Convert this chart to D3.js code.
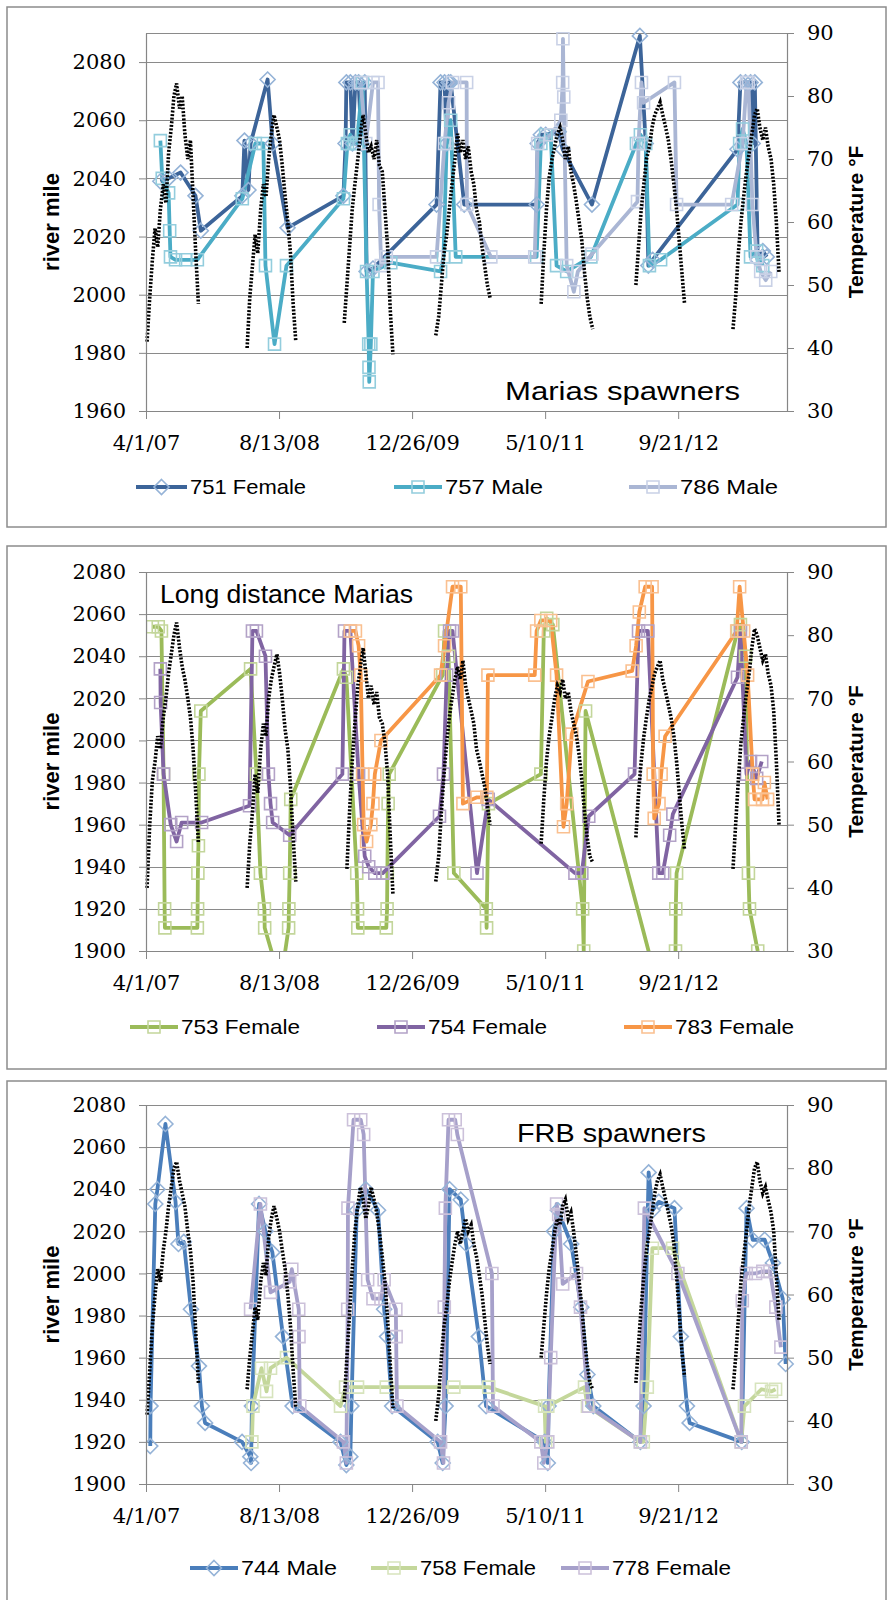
<!DOCTYPE html>
<html>
<head>
<meta charset="utf-8">
<script src="https://cdn.jsdelivr.net/npm/d3@7"></script>
<style>
  body { margin: 0; background: #fff; }
  svg text { font-family: "Liberation Sans", Arial, sans-serif; fill: #000; }
  .axis text { font-family: "DejaVu Serif", serif; font-size: 21px; }
</style>
</head>
<body>
<svg id="chart" width="889" height="1600"></svg>
<script>
// ---- axis ticks ----
var dateTicks = ['2007-04-01', '2008-08-13', '2009-12-26', '2011-05-10', '2012-09-21'];
var dateTickLabels = ['4/1/07', '8/13/08', '12/26/09', '5/10/11', '9/21/12'];
var tempTicks = [30, 40, 50, 60, 70, 80, 90];
var mariasMileTicks = [1960, 1980, 2000, 2020, 2040, 2060, 2080];
var lowerMileTicks = [1900, 1920, 1940, 1960, 1980, 2000, 2020, 2040, 2060, 2080];

// ---- water temperature (deg F), one row per season: [year, values on tempSeasonDays] ----
var tempSeasonDays = ['03-25', '04-05', '04-15', '04-25', '05-05', '05-15', '05-25', '06-05', '06-15', '06-25', '07-05', '07-15',
  '07-25', '08-05', '08-15', '08-25', '09-05', '09-15', '09-25', '10-05', '10-15', '10-25', '11-05'];

var tempMarias = [
  [2007, null, 41, 48, 54, 59, 56, 62, 66, 63, 71, 75, 80, 82, 78, 80, 74, 70, 73, 64, 55, 47, null, null],
  [2008, null, null, 40, 48, 53, 58, 55, 62, 66, 64, 70, 74, 77, 75, 73, 69, 64, 60, 55, 47, 41, null, null],
  [2009, null, null, 44, 50, 56, 62, 66, 70, 74, 77, 74, 71, 72, 70, 73, 69, 68, 62, 56, 46, 39, null, null],
  [2010, 42, 45, 50, 55, 58, 62, 66, 70, 74, 71, 73, 70, 72, 68, 66, 62, 60, 56, 53, 50, 48, null, null],
  [2011, null, null, null, 47, 55, 62, 67, 70, 72, 74, 75, 73, 70, 72, 68, 66, 63, 60, 57, 52, 48, 45, 43],
  [2012, null, null, 50, 56, 62, 66, 70, 72, 75, 77, 78, 79, 77, 75, 73, 70, 66, 62, 57, 52, 47, null, null],
  [2013, null, null, 43, 48, 55, 60, 64, 68, 71, 74, 77, 78, 75, 73, 75, 72, 70, 66, 60, 52, null, null, null]
];
var tempLong = [
  [2007, null, 40, 50, 57, 60, 64, 62, 67, 70, 74, 77, 80, 82, 78, 75, 73, 70, 67, 62, 55, 47, null, null],
  [2008, null, null, 40, 47, 52, 58, 55, 62, 66, 64, 70, 73, 75, 77, 74, 70, 65, 62, 56, 48, 41, null, null],
  [2009, null, null, null, 43, 52, 60, 66, 72, 75, 78, 74, 70, 72, 69, 71, 67, 66, 63, 58, 48, 39, null, null],
  [2010, 41, 45, 52, 58, 63, 67, 70, 73, 75, 73, 76, 72, 70, 68, 66, 62, 60, 58, 56, 53, 50, null, null],
  [2011, null, null, null, 47, 54, 60, 64, 67, 70, 72, 71, 73, 70, 71, 68, 66, 64, 61, 57, 52, 48, 45, 44],
  [2012, null, null, 48, 55, 60, 64, 67, 70, 72, 74, 75, 76, 73, 71, 69, 67, 64, 60, 55, 50, 46, null, null],
  [2013, null, null, 43, 50, 57, 63, 67, 71, 74, 78, 81, 80, 78, 76, 77, 74, 72, 68, 60, 50, null, null, null]
];
var tempFRB = [
  [2007, null, 41, 48, 55, 60, 64, 62, 67, 70, 74, 77, 80, 81, 78, 76, 74, 70, 67, 62, 54, 46, null, null],
  [2008, null, null, 45, 50, 54, 58, 56, 62, 65, 63, 69, 72, 74, 72, 70, 67, 64, 60, 55, 48, 42, null, null],
  [2009, null, null, 43, 50, 57, 64, 70, 74, 77, 75, 72, 74, 77, 75, 73, 70, 66, 62, 56, 49, 42, null, null],
  [2010, 40, 44, 50, 55, 58, 62, 65, 68, 70, 68, 70, 72, 70, 71, 68, 66, 63, 60, 56, 52, 49, null, null],
  [2011, null, null, null, 50, 55, 60, 64, 67, 70, 72, 71, 74, 75, 72, 73, 70, 66, 62, 58, 53, 49, 46, 45],
  [2012, null, null, 46, 52, 58, 63, 67, 70, 73, 76, 78, 79, 77, 75, 73, 71, 68, 63, 57, 51, 47, null, null],
  [2013, null, null, 45, 50, 56, 62, 66, 70, 74, 77, 80, 81, 78, 76, 77, 75, 73, 70, 63, 56, null, null, null]
];

// ---- fish locations [date, river mile] ----
var fish751 = [
  ['2007-05-25', 2039], ['2007-06-25', 2040], ['2007-08-09', 2042], ['2007-10-04', 2034], ['2007-10-24', 2022],
  ['2008-03-28', 2034], ['2008-04-05', 2053], ['2008-04-20', 2036], ['2008-04-28', 2052], ['2008-07-01', 2074], ['2008-07-20', 2052], ['2008-09-14', 2023],
  ['2009-04-12', 2034], ['2009-04-20', 2052], ['2009-04-23', 2073], ['2009-05-08', 2073], ['2009-05-16', 2052], ['2009-05-27', 2073], ['2009-06-08', 2073],
  ['2009-06-19', 2052], ['2009-07-01', 2073], ['2009-07-08', 2008], ['2009-08-01', 2009],
  ['2010-03-28', 2031], ['2010-04-12', 2073], ['2010-04-27', 2073], ['2010-05-05', 2052], ['2010-05-12', 2073], ['2010-05-20', 2073], ['2010-07-10', 2031],
  ['2011-04-08', 2031], ['2011-04-12', 2052], ['2011-04-24', 2055], ['2011-05-12', 2055], ['2011-06-30', 2056], ['2011-07-15', 2050], ['2011-11-02', 2031],
  ['2012-04-30', 2089], ['2012-05-22', 2052], ['2012-06-01', 2010], ['2012-06-17', 2012],
  ['2013-05-02', 2050], ['2013-05-13', 2073], ['2013-06-01', 2073], ['2013-06-20', 2073], ['2013-06-28', 2052], ['2013-07-06', 2073], ['2013-07-17', 2012],
  ['2013-08-05', 2015], ['2013-08-20', 2013]
];
var fish757 = [
  ['2007-05-25', 2053], ['2007-06-01', 2040], ['2007-06-25', 2035], ['2007-06-29', 2022], ['2007-07-02', 2013], ['2007-07-21', 2012], ['2007-08-28', 2012], ['2007-10-11', 2012],
  ['2008-03-28', 2033], ['2008-05-16', 2052], ['2008-06-15', 2052], ['2008-06-23', 2010], ['2008-07-27', 1983], ['2008-09-10', 2010],
  ['2009-04-12', 2033], ['2009-04-27', 2052], ['2009-05-08', 2055], ['2009-05-23', 2052], ['2009-06-01', 2052], ['2009-06-23', 2073], ['2009-07-08', 2008],
  ['2009-07-16', 1983], ['2009-07-17', 1975], ['2009-07-18', 1970], ['2009-07-24', 1983], ['2009-08-01', 2008], ['2009-10-07', 2011],
  ['2010-04-12', 2008], ['2010-04-23', 2013], ['2010-05-05', 2052], ['2010-05-20', 2060], ['2010-06-08', 2013],
  ['2011-04-08', 2013], ['2011-04-24', 2052], ['2011-05-12', 2055], ['2011-05-31', 2055], ['2011-06-22', 2010], ['2011-07-30', 2008], ['2011-10-29', 2013],
  ['2012-04-17', 2052], ['2012-05-02', 2055], ['2012-05-22', 2052], ['2012-06-05', 2010], ['2012-07-17', 2012],
  ['2013-05-02', 2031], ['2013-05-10', 2052], ['2013-05-21', 2057], ['2013-06-05', 2052], ['2013-06-20', 2013], ['2013-07-13', 2015], ['2013-08-05', 2010]
];
var fish786 = [
  ['2009-06-16', 2073], ['2009-07-05', 2052], ['2009-08-01', 2073], ['2009-08-20', 2073], ['2009-08-24', 2031], ['2009-09-01', 2010], ['2009-09-20', 2013],
  ['2010-03-28', 2013], ['2010-04-27', 2052], ['2010-05-12', 2066], ['2010-05-27', 2073], ['2010-07-19', 2073], ['2010-07-20', 2031], ['2010-10-18', 2013],
  ['2011-04-01', 2013], ['2011-04-12', 2052], ['2011-05-31', 2055], ['2011-07-08', 2060], ['2011-07-15', 2073], ['2011-07-16', 2088], ['2011-07-19', 2068],
  ['2011-07-30', 2010], ['2011-08-26', 2001], ['2011-09-10', 2008], ['2011-11-02', 2014],
  ['2012-04-21', 2032], ['2012-04-25', 2052], ['2012-05-06', 2073], ['2012-05-14', 2066], ['2012-09-07', 2073], ['2012-09-15', 2031],
  ['2013-04-10', 2031], ['2013-05-21', 2052], ['2013-06-05', 2073], ['2013-06-12', 2073], ['2013-06-27', 2031], ['2013-07-13', 2013], ['2013-07-28', 2008],
  ['2013-08-16', 2005], ['2013-09-04', 2008]
];
var fish753 = [
  ['2007-04-25', 2054], ['2007-05-17', 2054], ['2007-05-29', 2052], ['2007-06-06', 1984], ['2007-06-10', 1920], ['2007-06-11', 1911], ['2007-10-11', 1911],
  ['2007-10-12', 1920], ['2007-10-13', 1937], ['2007-10-15', 1950], ['2007-10-17', 1984], ['2007-10-24', 2014],
  ['2008-04-28', 2034], ['2008-05-20', 1984], ['2008-06-04', 1937], ['2008-06-19', 1920], ['2008-06-20', 1911], ['2008-08-19', 1885], ['2008-09-18', 1911],
  ['2008-09-19', 1920], ['2008-09-22', 1937], ['2008-09-26', 1972],
  ['2009-04-12', 2034], ['2009-04-23', 2030], ['2009-06-01', 1937], ['2009-06-04', 1920], ['2009-06-05', 1911], ['2009-09-20', 1911], ['2009-09-23', 1920],
  ['2009-09-24', 1937], ['2009-09-27', 1970], ['2009-10-01', 1984],
  ['2010-04-20', 2031], ['2010-04-27', 2052], ['2010-05-12', 2040], ['2010-06-01', 1937], ['2010-10-01', 1920], ['2010-10-02', 1911], ['2010-10-09', 1970],
  ['2011-04-24', 1984], ['2011-05-05', 2052], ['2011-05-16', 2058], ['2011-06-08', 2055], ['2011-09-28', 1920], ['2011-10-02', 1900], ['2011-10-09', 2014],
  ['2012-08-03', 1870], ['2012-09-11', 1900], ['2012-09-12', 1920], ['2012-09-15', 1937],
  ['2013-05-02', 2052], ['2013-05-13', 2055], ['2013-06-01', 2040], ['2013-06-12', 1937], ['2013-06-16', 1920], ['2013-07-17', 1900]
];
var fish754 = [
  ['2007-05-25', 2034], ['2007-05-26', 2018], ['2007-06-06', 1984], ['2007-07-03', 1960], ['2007-07-25', 1952], ['2007-08-13', 1961], ['2007-10-27', 1961],
  ['2008-04-24', 1969], ['2008-05-05', 2052], ['2008-05-20', 2052], ['2008-06-23', 2040], ['2008-07-04', 1984], ['2008-07-12', 1970], ['2008-07-20', 1961], ['2008-09-22', 1955],
  ['2009-04-08', 1984], ['2009-04-16', 2052], ['2009-05-08', 2052], ['2009-06-08', 1984], ['2009-07-01', 1945], ['2009-07-16', 1940], ['2009-08-08', 1937], ['2009-09-07', 1937],
  ['2010-04-08', 1964], ['2010-04-23', 1984], ['2010-05-05', 2031], ['2010-05-16', 2052], ['2010-05-27', 2052], ['2010-08-27', 1937], ['2010-10-08', 1972],
  ['2011-08-30', 1937], ['2011-09-25', 1937], ['2011-10-21', 1964],
  ['2012-04-10', 1984], ['2012-04-25', 2052], ['2012-05-30', 2052], ['2012-07-10', 1937], ['2012-07-25', 1937], ['2012-08-20', 1955], ['2012-09-01', 1965],
  ['2013-05-02', 2030], ['2013-05-13', 2052], ['2013-06-05', 1984], ['2013-06-20', 1990], ['2013-07-13', 1982], ['2013-08-01', 1990]
];
var fish783 = [
  ['2009-05-08', 2052], ['2009-05-27', 2052], ['2009-06-08', 2045], ['2009-06-16', 2031], ['2009-06-23', 1984], ['2009-06-27', 1960], ['2009-07-08', 1952],
  ['2009-07-24', 1960], ['2009-08-01', 1970], ['2009-08-08', 1984], ['2009-08-31', 2000],
  ['2010-04-12', 2031], ['2010-04-27', 2045], ['2010-05-27', 2073], ['2010-06-27', 2073], ['2010-07-05', 1970], ['2010-08-27', 1973], ['2010-10-03', 1973], ['2010-10-07', 2031],
  ['2011-04-01', 2031], ['2011-04-08', 2052], ['2011-04-24', 2057], ['2011-05-31', 2057], ['2011-06-22', 2031], ['2011-07-18', 1959], ['2011-07-30', 1970],
  ['2011-08-18', 2003], ['2011-10-18', 2028],
  ['2012-04-01', 2033], ['2012-04-16', 2045], ['2012-04-28', 2061], ['2012-05-20', 2073], ['2012-06-15', 2073], ['2012-06-19', 1984], ['2012-06-23', 1963],
  ['2012-07-11', 1970], ['2012-07-19', 1984], ['2012-08-03', 2002],
  ['2013-04-29', 2052], ['2013-05-10', 2073], ['2013-05-25', 2052], ['2013-06-09', 2031], ['2013-06-28', 1984], ['2013-07-05', 1972], ['2013-08-04', 1972],
  ['2013-08-11', 1980], ['2013-08-23', 1972]
];
var fish744 = [
  ['2007-04-17', 1918], ['2007-04-18', 1937], ['2007-05-06', 2033], ['2007-05-14', 2040], ['2007-06-13', 2071], ['2007-07-21', 2034], ['2007-08-01', 2014],
  ['2007-08-21', 2015], ['2007-09-17', 1983], ['2007-10-17', 1956], ['2007-10-28', 1937], ['2007-11-09', 1929],
  ['2008-03-27', 1920], ['2008-04-27', 1913], ['2008-04-30', 1910], ['2008-05-03', 1937], ['2008-05-30', 2033], ['2008-06-23', 2020], ['2008-07-19', 2010],
  ['2008-08-28', 1970], ['2008-10-03', 1937],
  ['2009-04-01', 1920], ['2009-04-23', 1909], ['2009-05-08', 1913], ['2009-05-12', 1937], ['2009-06-01', 2030], ['2009-07-05', 2040], ['2009-08-20', 2030],
  ['2009-09-12', 1983], ['2009-09-23', 1970], ['2009-10-12', 1937],
  ['2010-04-01', 1920], ['2010-04-20', 1910], ['2010-05-01', 1937], ['2010-05-16', 2040], ['2010-06-27', 2035], ['2010-07-17', 2014], ['2010-09-03', 1970], ['2010-09-30', 1937],
  ['2011-05-08', 1920], ['2011-05-20', 1910], ['2011-05-23', 1937], ['2011-06-12', 2020], ['2011-06-27', 2030], ['2011-08-16', 2014], ['2011-09-23', 1984],
  ['2011-10-16', 1952], ['2011-11-07', 1937],
  ['2012-05-02', 1920], ['2012-05-14', 1937], ['2012-06-02', 2048], ['2012-06-17', 2030], ['2012-07-10', 2034], ['2012-09-07', 2031], ['2012-10-01', 1970],
  ['2012-10-24', 1937], ['2012-11-03', 1929],
  ['2013-05-18', 1920], ['2013-06-05', 2031], ['2013-06-28', 2016], ['2013-08-12', 2016], ['2013-09-12', 2005], ['2013-10-19', 1988], ['2013-10-30', 1957]
];
var fish758 = [
  ['2008-05-03', 1920], ['2008-05-07', 1937], ['2008-06-08', 1955], ['2008-06-27', 1944], ['2008-07-12', 1955], ['2008-09-10', 1960],
  ['2009-04-01', 1937], ['2009-04-20', 1946], ['2009-06-04', 1946], ['2009-09-20', 1946],
  ['2010-06-01', 1946], ['2010-10-10', 1946],
  ['2011-05-08', 1937], ['2011-05-12', 1920], ['2011-05-20', 1937], ['2011-10-05', 1946], ['2011-10-16', 1937],
  ['2012-05-02', 1920], ['2012-05-13', 1920], ['2012-05-28', 1946], ['2012-06-16', 2012], ['2012-08-31', 2012],
  ['2013-05-16', 1920], ['2013-05-28', 1937], ['2013-07-31', 1945], ['2013-09-07', 1944], ['2013-09-22', 1945]
];
var fish778 = [
  ['2008-04-28', 1983], ['2008-06-04', 2033], ['2008-07-12', 1991], ['2008-09-22', 1996], ['2008-09-30', 2002], ['2008-10-26', 1983], ['2008-10-27', 1970], ['2008-10-30', 1937],
  ['2009-04-12', 1920], ['2009-04-23', 1910], ['2009-04-28', 1983], ['2009-04-29', 2031], ['2009-05-20', 2073], ['2009-06-16', 2073], ['2009-06-27', 2066],
  ['2009-07-12', 1997], ['2009-08-01', 1988], ['2009-08-31', 1988], ['2009-09-12', 1997], ['2009-10-26', 1983], ['2009-10-27', 1970], ['2009-10-30', 1937],
  ['2010-04-12', 1920], ['2010-04-23', 1910], ['2010-04-26', 1984], ['2010-04-30', 2031], ['2010-05-12', 2073], ['2010-06-06', 2073], ['2010-06-14', 2066],
  ['2010-10-22', 2000], ['2010-10-26', 1937],
  ['2011-04-24', 1920], ['2011-05-05', 1910], ['2011-05-20', 1920], ['2011-05-31', 1960], ['2011-06-22', 2033], ['2011-06-30', 2028], ['2011-07-15', 1995],
  ['2011-09-05', 2000], ['2011-09-20', 1984], ['2011-10-20', 1937],
  ['2012-05-02', 1920], ['2012-05-17', 2031], ['2012-09-20', 2000],
  ['2013-05-16', 1920], ['2013-05-20', 1987], ['2013-06-04', 2000], ['2013-07-09', 2000], ['2013-08-05', 2001], ['2013-09-01', 2001], ['2013-09-23', 1984], ['2013-10-12', 1965]
];

// ---- panels ----
var panels = [
  {
    title: 'Marias spawners', titleX: 505, titleY: 400, titleW: 235, titleSize: 26,
    boxTop: 7, boxBottom: 527, top: 33, bottom: 411, mileDomain: [1960, 2090], mileTicks: mariasMileTicks,
    temps: tempMarias, legendY: 487,
    series: [
      { name: '751 Female', data: fish751, color: '#3c6499', mark: '#95b3d7', shape: 'diamond', lx: 136, tx: 190, tw: 116 },
      { name: '757 Male', data: fish757, color: '#4bacc6', mark: '#93cddd', shape: 'square', lx: 394, tx: 445, tw: 98 },
      { name: '786 Male', data: fish786, color: '#aab6d4', mark: '#c9d1e6', shape: 'square', lx: 629, tx: 680, tw: 98 }
    ]
  },
  {
    title: 'Long distance Marias', titleX: 160, titleY: 603, titleW: 253, titleSize: 25,
    boxTop: 546, boxBottom: 1069, top: 572, bottom: 951, mileDomain: [1900, 2080], mileTicks: lowerMileTicks,
    temps: tempLong, legendY: 1027,
    series: [
      { name: '753 Female', data: fish753, color: '#9bbb59', mark: '#c3d69b', shape: 'square', lx: 130, tx: 181, tw: 119 },
      { name: '754 Female', data: fish754, color: '#8064a2', mark: '#b3a2c7', shape: 'square', lx: 377, tx: 428, tw: 119 },
      { name: '783 Female', data: fish783, color: '#f79646', mark: '#fac090', shape: 'square', lx: 624, tx: 675, tw: 119 }
    ]
  },
  {
    title: 'FRB spawners', titleX: 517, titleY: 1142, titleW: 189, titleSize: 25,
    boxTop: 1081, boxBottom: 1612, top: 1105, bottom: 1484, mileDomain: [1900, 2080], mileTicks: lowerMileTicks,
    temps: tempFRB, legendY: 1568,
    series: [
      { name: '744 Male', data: fish744, color: '#4a7ebb', mark: '#95b3d7', shape: 'diamond', lx: 190, tx: 241, tw: 96 },
      { name: '758 Female', data: fish758, color: '#c4d79b', mark: '#d7e4bd', shape: 'square', lx: 371, tx: 420, tw: 116 },
      { name: '778 Female', data: fish778, color: '#a6a0ca', mark: '#ccc1da', shape: 'square', lx: 561, tx: 612, tw: 119 }
    ]
  }
];

var parse = d3.timeParse('%Y-%m-%d');
var plotLeft = 146, plotRight = 787;
var x = d3.scaleTime().domain([parse('2007-04-01'), parse('2013-11-04')]).range([plotLeft, plotRight]);
var svg = d3.select('#chart');
var gridColor = '#8a8a8a';

function seasonPoints(rows) {
  var pts = [];
  rows.forEach(function(row) {
    tempSeasonDays.forEach(function(md, i) {
      pts.push({ date: parse(row[0] + '-' + md), value: row[i + 1] });
    });
    pts.push({ date: null, value: null });
  });
  return pts;
}

function markerPath(shape) {
  if (shape === 'diamond') return 'M0,-7.5L7.5,0L0,7.5L-7.5,0Z';
  return 'M-6,-6H6V6H-6Z';
}

function drawPanel(p, idx) {
  var g = svg.append('g').attr('class', 'panel');
  var yL = d3.scaleLinear().domain(p.mileDomain).range([p.bottom, p.top]);
  var yR = d3.scaleLinear().domain([30, 90]).range([p.bottom, p.top]);

  g.append('rect')
    .attr('x', 7).attr('y', p.boxTop)
    .attr('width', 879).attr('height', p.boxBottom - p.boxTop)
    .attr('fill', '#fff').attr('stroke', '#8c8c8c').attr('stroke-width', 1.5);

  // horizontal gridlines on river-mile ticks
  g.selectAll('line.grid').data(p.mileTicks).enter().append('line')
    .attr('class', 'grid')
    .attr('x1', plotLeft).attr('x2', plotRight)
    .attr('y1', function(d) { return Math.round(yL(d)) + 0.5; })
    .attr('y2', function(d) { return Math.round(yL(d)) + 0.5; })
    .attr('stroke', gridColor).attr('stroke-width', 1);

  // plot area frame (top)
  g.append('line')
    .attr('x1', plotLeft).attr('x2', plotRight)
    .attr('y1', p.top + 0.5).attr('y2', p.top + 0.5)
    .attr('stroke', gridColor);

  g.append('clipPath').attr('id', 'clip' + idx)
    .append('rect').attr('x', plotLeft).attr('y', p.top - 10)
    .attr('width', plotRight - plotLeft + 10).attr('height', p.bottom - p.top + 10);

  var plot = g.append('g').attr('clip-path', 'url(#clip' + idx + ')');

  var line = d3.line()
    .x(function(d) { return x(parse(d[0])); })
    .y(function(d) { return yL(d[1]); });

  p.series.forEach(function(s) {
    plot.append('path')
      .datum(s.data)
      .attr('d', line)
      .attr('fill', 'none')
      .attr('stroke', s.color)
      .attr('stroke-width', 3.8)
      .attr('stroke-linejoin', 'round');
  });
  p.series.forEach(function(s) {
    plot.selectAll(null).data(s.data).enter().append('path')
      .attr('d', markerPath(s.shape))
      .attr('transform', function(d) { return 'translate(' + x(parse(d[0])) + ',' + yL(d[1]) + ')'; })
      .attr('fill', 'none')
      .attr('stroke', s.mark)
      .attr('stroke-width', 1.6);
  });

  // water temperature, dotted, on the secondary axis
  var tline = d3.line()
    .defined(function(d) { return d.value != null; })
    .x(function(d) { return x(d.date); })
    .y(function(d) { return yR(d.value); });
  g.append('path')
    .datum(seasonPoints(p.temps))
    .attr('d', tline)
    .attr('fill', 'none')
    .attr('stroke', '#000')
    .attr('stroke-width', 3.6)
    .attr('stroke-dasharray', '2,1.6');

  // axes
  var left = g.append('g').attr('class', 'axis')
    .attr('transform', 'translate(' + plotLeft + ',0)')
    .call(d3.axisLeft(yL).tickValues(p.mileTicks).tickSize(7).tickSizeOuter(0).tickPadding(13).tickFormat(d3.format('d')));
  var right = g.append('g').attr('class', 'axis')
    .attr('transform', 'translate(' + plotRight + ',0)')
    .call(d3.axisRight(yR).tickValues(tempTicks).tickSize(7).tickSizeOuter(0).tickPadding(13));
  var bottom = g.append('g').attr('class', 'axis')
    .attr('transform', 'translate(0,' + p.bottom + ')')
    .call(d3.axisBottom(x).tickValues(dateTicks.map(parse)).tickSize(8).tickSizeOuter(0).tickPadding(16)
      .tickFormat(function(d, i) { return dateTickLabels[i]; }));
  [left, right, bottom].forEach(function(a) {
    a.select('.domain').attr('stroke', '#868686').attr('stroke-width', 1.2);
    a.selectAll('.tick line').attr('stroke', '#868686');
    a.selectAll('.tick text').attr('fill', '#000');
  });

  // axis titles
  var midY = (p.top + p.bottom) / 2;
  g.append('text')
    .attr('transform', 'translate(59,' + midY + ') rotate(-90)')
    .attr('text-anchor', 'middle')
    .style('font-weight', 'bold').style('font-size', '22px')
    .text('river mile');
  g.append('text')
    .attr('transform', 'translate(863,' + midY + ') rotate(-90)')
    .attr('text-anchor', 'middle')
    .style('font-weight', 'bold').style('font-size', '21px')
    .text('Temperature \u00B0F');

  // chart title
  g.append('text')
    .attr('x', p.titleX).attr('y', p.titleY)
    .attr('textLength', p.titleW).attr('lengthAdjust', 'spacingAndGlyphs')
    .style('font-size', p.titleSize + 'px')
    .text(p.title);

  // legend
  p.series.forEach(function(s) {
    var lg = g.append('g');
    lg.append('line')
      .attr('x1', s.lx).attr('x2', s.tx - 3)
      .attr('y1', p.legendY).attr('y2', p.legendY)
      .attr('stroke', s.color).attr('stroke-width', 3.8);
    lg.append('path')
      .attr('d', markerPath(s.shape))
      .attr('transform', 'translate(' + ((s.lx + s.tx - 3) / 2) + ',' + p.legendY + ')')
      .attr('fill', 'none').attr('stroke', s.mark).attr('stroke-width', 1.6);
    lg.append('text')
      .attr('x', s.tx).attr('y', p.legendY + 7)
      .attr('textLength', s.tw).attr('lengthAdjust', 'spacingAndGlyphs')
      .style('font-size', '21px')
      .text(s.name);
  });
}

panels.forEach(drawPanel);
</script>
</body>
</html>
